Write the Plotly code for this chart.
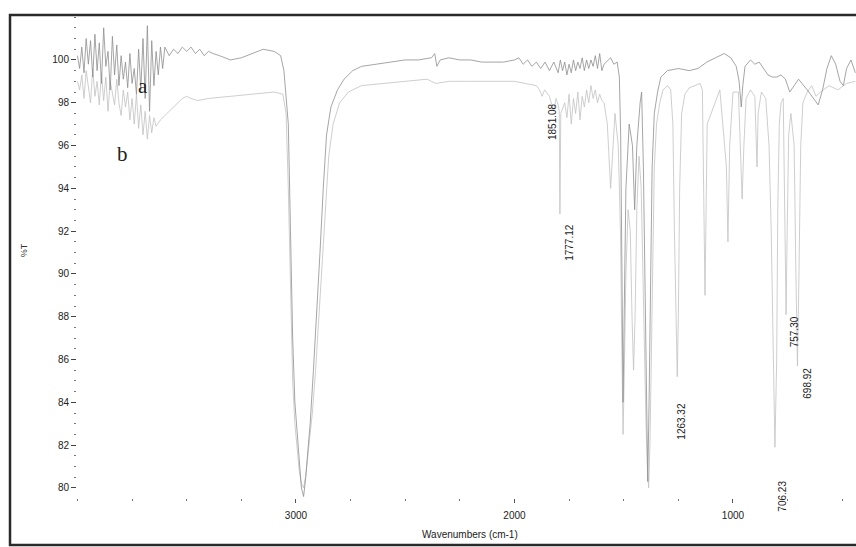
import plotly.graph_objects as go

# ---- spectrum a (upper trace) ----
wn_a = [4000, 3990, 3980, 3970, 3960, 3950, 3940, 3930, 3920, 3910, 3900, 3890, 3880, 3870, 3860,
        3850, 3840, 3830, 3820, 3810, 3800, 3790, 3780, 3770, 3760, 3750, 3740, 3730, 3720, 3710,
        3700, 3690, 3680, 3670, 3660, 3650, 3640, 3630, 3620, 3610, 3600, 3580, 3560, 3540, 3520,
        3500, 3480, 3460, 3440, 3420, 3400, 3380, 3350, 3300, 3250, 3200, 3150, 3100, 3070, 3055,
        3035, 3025, 3015, 3005, 2995, 2985, 2975, 2965, 2955, 2945, 2935, 2920, 2905, 2890, 2875,
        2860, 2840, 2810, 2780, 2740, 2700, 2640, 2580, 2500, 2440, 2380, 2365, 2355, 2340, 2300,
        2250, 2200, 2150, 2100, 2050, 2000, 1980, 1960, 1940, 1920, 1900, 1880, 1860, 1840, 1820,
        1800, 1790, 1780, 1770, 1760, 1750, 1740, 1730, 1720, 1710, 1700, 1690, 1680, 1670, 1660,
        1650, 1640, 1630, 1620, 1610, 1600, 1590, 1580, 1560, 1545, 1530, 1520, 1514, 1508, 1503,
        1498, 1490, 1475, 1460, 1450, 1440, 1425, 1418, 1410, 1402, 1396, 1390, 1384, 1378, 1370,
        1360, 1345, 1330, 1300, 1250, 1200, 1160, 1120, 1080, 1040, 1010, 985, 972, 962, 955,
        945, 920, 900, 880, 860, 840, 820, 800, 780, 760, 750, 740, 720, 700, 660,
        630, 610, 590, 570, 550, 530, 510, 495, 480, 460, 440]
t_a = [100.2, 99.6, 100.6, 99.4, 101.0, 99.8, 100.9, 99.2, 101.2, 99.5, 100.8, 98.9, 101.5, 99.7, 100.4,
       98.6, 101.1, 99.3, 100.7, 98.8, 100.2, 99.1, 99.9, 98.7, 100.3, 98.9, 99.6, 98.4, 100.5, 98.6,
       101.0, 98.2, 101.6, 97.6, 100.9, 98.8, 100.4, 99.3, 100.6, 99.6, 100.6, 100.2, 100.5, 100.3, 100.6,
       100.4, 100.6, 100.3, 100.5, 100.2, 100.4, 100.3, 100.2, 100.0, 100.1, 100.3, 100.5, 100.4, 100.2, 99.5,
       97.0, 92.0, 87.0, 84.0, 82.5, 81.0, 80.0, 79.6, 80.5, 81.8, 83.0, 85.5, 88.0, 91.0, 94.0,
       96.5, 97.8, 98.6, 99.1, 99.5, 99.7, 99.8, 99.9, 100.0, 100.0, 100.1, 100.3, 99.7, 100.0, 100.1,
       100.0, 100.0, 99.9, 99.9, 99.9, 100.0, 100.1, 99.8, 100.0, 99.7, 99.9, 99.6, 99.9, 99.5, 99.9,
       99.4, 100.0, 99.5, 99.9, 99.3, 99.8, 99.4, 100.0, 99.5, 99.9, 99.6, 100.1, 99.5, 100.0, 99.6,
       100.0, 99.7, 100.2, 99.6, 100.3, 99.5, 99.8, 99.9, 100.1, 99.8, 99.9, 99.2, 96.5, 90.0, 84.0,
       88.0, 94.0, 97.0, 96.0, 93.0, 96.0, 98.0, 98.5, 95.0, 88.0, 83.0, 80.3, 84.0, 90.0, 95.0,
       97.5, 98.5, 99.2, 99.5, 99.6, 99.5, 99.6, 99.9, 100.1, 100.3, 100.1, 99.7, 99.0, 97.8, 98.8,
       99.7, 100.0, 99.8, 99.9, 99.6, 99.3, 99.2, 99.2, 99.3, 99.1, 98.8, 98.5, 98.8, 99.1, 98.6,
       98.2, 97.9, 98.6, 99.6, 100.2, 99.8, 99.0, 98.8, 99.6, 100.0, 99.4]

# ---- spectrum b (lower trace) ----
wn_b = [4000, 3990, 3980, 3970, 3960, 3950, 3940, 3930, 3920, 3910, 3900, 3890, 3880, 3870, 3860,
        3850, 3840, 3830, 3820, 3810, 3800, 3790, 3780, 3770, 3760, 3750, 3740, 3730, 3720, 3710,
        3700, 3690, 3680, 3670, 3660, 3650, 3640, 3620, 3600, 3580, 3560, 3540, 3520, 3500, 3480,
        3450, 3400, 3300, 3200, 3100, 3060, 3045, 3035, 3025, 3015, 3005, 2995, 2985, 2975, 2965,
        2955, 2945, 2935, 2925, 2910, 2895, 2880, 2865, 2850, 2830, 2800, 2760, 2700, 2600, 2500,
        2400, 2360, 2300, 2200, 2100, 2000, 1950, 1900, 1885, 1874, 1862, 1840, 1820, 1810, 1800,
        1795, 1792, 1788, 1770, 1760, 1750, 1740, 1730, 1720, 1710, 1700, 1690, 1680, 1670, 1660,
        1650, 1640, 1630, 1620, 1610, 1600, 1590, 1575, 1560, 1540, 1525, 1515, 1508, 1503, 1498,
        1490, 1480, 1470, 1462, 1455, 1448, 1440, 1430, 1420, 1412, 1405, 1398, 1392, 1386, 1380,
        1374, 1368, 1360, 1350, 1335, 1320, 1300, 1285, 1275, 1268, 1260, 1255, 1250, 1244, 1235,
        1220, 1200, 1150, 1140, 1128, 1118, 1060, 1030, 1023, 1015, 1000, 975, 965, 958, 950,
        940, 920, 900, 890, 885, 870, 850, 835, 825, 815, 808, 800, 795, 788, 780,
        770, 762, 757, 752, 745, 735, 720, 712, 705, 698, 690, 680, 660, 640, 620,
        600, 560, 520, 480, 440]
t_b = [99.0, 98.6, 99.3, 98.2, 99.5, 98.8, 98.0, 99.6, 98.3, 99.0, 97.9, 99.4, 98.1, 99.2, 97.6,
       99.0, 98.4, 97.9, 99.1, 98.0, 97.4, 98.6, 97.8, 98.5, 97.2, 98.2, 97.0, 98.4, 96.8, 97.9,
       96.5, 97.6, 96.3, 97.4, 96.6, 97.3, 96.9, 97.2, 97.4, 97.6, 97.8, 98.0, 98.2, 98.3, 98.2,
       98.1, 98.2, 98.3, 98.4, 98.5, 98.4, 97.5, 94.0, 89.0, 85.0, 83.0, 82.0, 80.8, 80.2, 80.0,
       80.6, 81.5, 82.5, 83.5, 85.5, 88.0, 91.0, 93.5, 95.5, 97.0, 98.0, 98.5, 98.8, 98.9, 99.0,
       99.1, 98.9, 99.0, 99.0, 99.0, 99.0, 98.9, 98.8, 98.6, 98.3, 98.6, 98.3, 97.6, 98.2, 97.9,
       97.6, 92.8, 97.5, 98.0, 97.3, 98.4, 97.0, 98.2, 97.5, 98.5, 97.2, 98.3, 97.8, 98.6, 98.0,
       98.8, 98.2, 98.6, 98.0, 98.4, 98.1, 98.0, 97.0, 94.0, 97.5, 96.0, 92.0, 86.0, 82.5, 85.0,
       90.0, 93.0, 92.0, 88.0, 85.5, 88.0, 93.0, 95.5, 94.0, 90.0, 86.0, 83.0, 81.0, 80.0, 82.0,
       86.0, 91.0, 95.0, 97.0, 98.0, 98.6, 98.8, 98.6, 97.0, 92.0, 87.0, 85.2, 88.0, 94.0, 97.5,
       98.4, 98.7, 98.9, 98.6, 89.0, 97.0, 98.6, 95.0, 91.5, 96.0, 98.5, 98.5, 96.0, 93.5, 96.0,
       98.2, 98.6, 98.3, 95.0, 97.5, 98.5, 98.2, 96.0, 92.0, 86.0, 81.9, 86.0, 93.0, 97.0, 98.0,
       98.2, 93.0, 88.1, 92.0, 96.5, 97.5, 96.0, 90.0, 85.7, 90.0, 96.0, 98.0, 98.5, 98.8, 98.3,
       98.5, 98.8, 98.6, 98.9, 99.0]

# ---- peak labels ----
peak_text = ["1851.08", "1777.12", "1263.32", "757.30", "698.92", "706.23"]
peak_wn = [1828, 1746, 1233, 718, 663, 775]
peak_t = [97.1, 91.5, 83.1, 87.3, 84.9, 79.6]

y_ticks = [80, 82, 84, 86, 88, 90, 92, 94, 96, 98, 100]
x_ticks = [3000, 2000, 1000]

fig = go.Figure()
fig.add_trace(go.Scatter(x=wn_b, y=t_b, mode="lines",
                         line=dict(color="#c2c2c2", width=0.8), showlegend=False))
fig.add_trace(go.Scatter(x=wn_a, y=t_a, mode="lines",
                         line=dict(color="#8e8e8e", width=0.8), showlegend=False))

font_lbl = dict(family="Liberation Sans, Arial", size=10, color="#222")
for txt, xw, yt in zip(peak_text, peak_wn, peak_t):
    fig.add_annotation(x=xw, y=yt, xref="x", yref="y", text=txt, showarrow=False,
                       textangle=-90, font=font_lbl)

font_ab = dict(family="Liberation Serif, Times New Roman, serif", size=21, color="#222")
fig.add_annotation(x=3702, y=98.8, xref="x", yref="y", text="a", showarrow=False, font=font_ab)
fig.add_annotation(x=3795, y=95.6, xref="x", yref="y", text="b", showarrow=False, font=font_ab)

fig.add_annotation(x=-0.068, y=0.513, xref="paper", yref="paper", text="%T", showarrow=False,
                   xanchor="center", yanchor="middle", textangle=-90,
                   font=dict(family="Liberation Sans, Arial", size=9, color="#333"))
fig.add_annotation(x=0.5045, y=-0.0766, xref="paper", yref="paper", text="Wavenumbers (cm-1)",
                   xanchor="center", yanchor="middle", showarrow=False, font=font_lbl)

fig.add_shape(type="rect", xref="paper", yref="paper", x0=-0.086, x1=1.02, y0=-0.0973, y1=1.0,
              line=dict(color="#2a2a2a", width=2.5))

fig.update_layout(
    width=856, height=547,
    margin=dict(l=77, r=0, t=15, b=49),
    paper_bgcolor="white", plot_bgcolor="white",
    xaxis=dict(range=[4002, 437], tickvals=x_ticks, ticks="outside", ticklen=4, tickcolor="#555",
               showgrid=False, zeroline=False, showline=False, ticklabelstandoff=4,
               tickfont=font_lbl,
               minor=dict(tick0=0, dtick=250, ticks="outside", ticklen=2, tickcolor="#777")),
    yaxis=dict(range=[79.53, 102.1], tickvals=y_ticks, ticks="outside", ticklen=5, tickcolor="#444",
               showgrid=False, zeroline=False, showline=False,
               tickfont=font_lbl,
               minor=dict(tick0=0, dtick=0.5, ticks="outside", ticklen=2, tickcolor="#777")),
)

fig.write_html("out.html")
